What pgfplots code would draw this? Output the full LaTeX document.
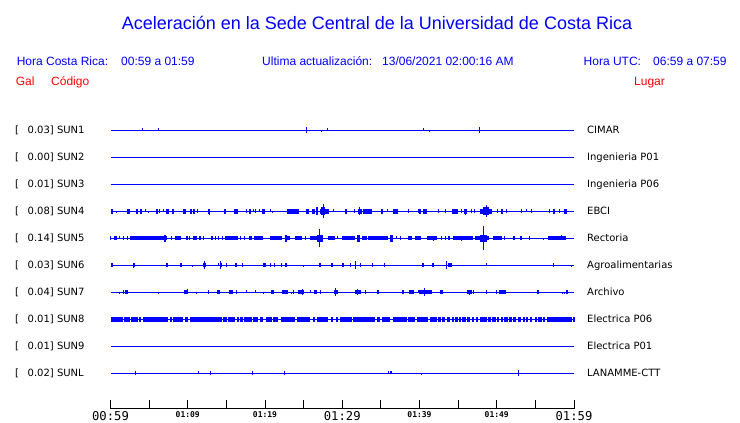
\documentclass[border=0pt]{standalone}
\usepackage{pgfplots}
\pgfplotsset{compat=1.18}
\usepackage{pgfplotstable}
\usepackage{fontspec}
\setmainfont{Liberation Sans}
\newfontfamily\dejavu{DejaVu Sans}
\newfontfamily\dejamono{DejaVu Sans Mono}
\definecolor{pblue}{RGB}{0,0,255}
\definecolor{pred}{RGB}{255,0,0}

% ---------- spikes: time (min after 00:59), up, down (px) ----------
\pgfplotstableread{
x up dn
4.12 2 0
6.19 2 0
25.35 3.5 3
27.29 0 2
28.12 2 0
40.49 2 0
41.27 0 2
47.74 3 3
}\sunAS

\pgfplotstableread{
a b
0.03 0.32
2.14 2.52
3.34 3.60
3.78 4.04
5.89 6.15
7.18 7.61
7.92 8.18
9.39 9.81
10.29 10.55
10.68 10.94
12.66 12.92
14.65 14.91
15.95 16.47
17.93 18.19
19.57 20.00
22.89 24.44
25.31 25.66
26.05 26.47
27.12 27.99
28.09 28.28
30.36 30.65
32.08 32.60
32.75 33.89
34.98 35.31
36.53 37.18
39.94 40.19
40.45 40.97
44.25 44.95
45.80 46.11
47.83 49.42
50.55 50.85
57.24 57.54
58.71 59.06
}\sunDB
\pgfplotstableread{
a b
26.62 26.76
27.25 27.80
48.26 49.00
}\sunDT
\pgfplotstableread{
x up dn
0.80 0 2
4.50 2 0
4.89 0 2
6.32 2 2
6.89 2 0
11.24 2 2
12.79 0 3.5
17.63 2 2
18.54 2 0
18.83 2 2
19.26 2 0
20.65 2 0
21.00 0 2
26.69 4 4
27.51 7 7
28.93 2 0
31.56 2 2
32.17 4 4
35.83 2 0
38.55 2 2
39.84 2 2
42.43 2 2
43.39 2 2
45.46 2 2
45.95 0 3.5
46.67 2 2
47.18 2 2
48.61 6 6
50.12 2 2
51.29 2 2
53.14 2 2
53.88 2 0
54.52 2 2
56.89 2 2
58.06 2 2
}\sunDS

\pgfplotstableread{
a b
0.45 0.80
2.52 7.28
8.35 9.13
9.77 9.99
10.72 11.16
11.50 11.72
13.01 13.23
14.39 14.60
14.82 16.54
17.97 18.28
18.58 19.80
20.65 22.16
22.59 23.24
23.88 24.75
25.83 26.69
26.77 27.55
28.19 29.06
29.93 31.65
31.87 32.30
32.52 33.17
33.37 35.96
36.18 36.61
38.55 38.99
39.42 40.19
40.93 42.23
43.30 43.43
43.73 43.95
44.38 46.97
47.18 49.00
49.55 50.72
52.14 52.36
53.01 53.31
56.60 58.93
}\sunEB
\pgfplotstableread{
a b
6.95 7.15
22.59 22.85
26.77 27.55
31.87 32.30
36.18 36.61
47.83 48.70
}\sunET
\pgfplotstableread{
x up dn
0.03 2 2
1.14 2 0
1.66 2 2
2.17 2 2
7.06 3.5 3.5
7.92 2 2
10.29 2 2
12.10 2 2
13.53 2 2
13.95 2 2
16.85 2 2
17.32 2 2
22.72 3 3
25.18 2 2
27.03 9 8.5
29.36 2 0
36.96 2 0
37.57 2 2
41.79 0 3
42.87 2 2
45.46 0 3
48.26 12 12
50.98 2 2
54.30 2 2
56.03 0 2
58.41 3 0
}\sunES

\pgfplotstableread{
a b
0.03 0.28
2.95 3.17
7.18 7.40
9.04 9.26
12.01 12.32
14.14 14.39
16.12 16.34
19.70 20.13
22.59 22.81
26.95 27.16
28.54 28.76
29.97 30.19
40.32 40.54
41.66 41.92
43.65 44.25
}\sunFB
\pgfplotstableread{
x up dn
3.04 2 3
10.59 0 1.5
12.14 4 4
13.95 2 0
14.27 4 4
15.04 2 2
17.06 2 2
20.65 2 2
21.29 2 2
22.16 2 2
24.96 0 2
31.09 2 2
31.74 4 4
32.30 2 2
33.89 2 2
35.53 2 2
43.52 4 4
48.65 2 0
57.32 2 2
59.70 0 2
}\sunFS

\pgfplotstableread{
a b
1.88 2.23
9.51 10.07
13.83 14.17
15.38 15.86
20.78 21.20
22.20 22.98
24.31 25.09
26.34 26.69
28.93 29.45
31.65 32.39
34.54 34.80
37.70 37.99
38.64 39.29
39.94 41.58
42.65 43.08
46.19 46.76
50.29 51.16
55.21 55.51
58.96 59.22
}\sunGB
\pgfplotstableread{
x up dn
1.14 0 2
1.66 2 2
6.19 0 2
9.94 3 0
11.16 0 2
12.75 2 2
16.34 2 2
17.63 2 0
18.80 2 0
19.87 0 2
23.46 0 2
23.66 2 2
24.88 3 3
25.83 2 0
27.12 2 2
29.19 4 4
32.00 3 3
33.07 2 2
34.67 2 0
39.84 2 0
40.71 4 4
42.87 2 2
46.50 0 3
46.96 2 2
48.70 2 2
49.99 2 2
58.54 0 1.5
58.74 0 1.5
}\sunGS

\pgfplotstableread{
a b
0.00 0.80
0.88 1.66
1.79 2.52
2.65 3.52
3.69 3.95
4.25 7.48
7.70 7.92
8.13 9.42
9.64 10.07
10.29 14.39
14.60 15.04
15.25 16.12
16.34 16.54
16.76 17.19
17.32 18.28
18.41 19.13
19.35 19.78
20.13 20.87
21.00 21.72
22.03 23.88
24.10 25.83
26.17 26.47
26.69 28.19
28.50 28.84
29.19 29.49
29.71 31.22
31.43 34.24
34.54 34.89
35.11 36.18
36.53 38.34
38.55 39.42
39.64 40.06
40.06 41.14
41.36 42.23
42.43 42.74
42.87 43.30
43.52 43.95
44.17 44.38
44.60 45.02
45.15 45.37
45.54 45.98
46.19 46.54
46.76 47.09
47.31 47.61
47.83 48.70
48.91 49.26
49.42 49.86
49.99 50.29
50.55 50.72
50.98 51.42
51.63 51.94
52.14 52.49
52.79 53.14
53.36 53.57
53.75 54.01
54.30 54.60
54.95 55.17
55.38 55.82
56.03 56.25
56.47 59.70
59.91 60.00
}\sunHB

\pgfplotstableread{
x up dn
3.26 2 2
11.37 2 0
12.93 2 2
18.36 2 2
22.50 2 2
36.00 2 0
36.20 2.5 0
36.40 2 0
40.28 0 2
52.80 3 3
}\sunLS

\pgfplotsset{
  spk/.style={draw=none, mark=none, forget plot,
    error bars/.cd, y dir=both, y explicit, error mark=none,
    error bar style={draw=pblue, line width=1pt, line cap=butt}},
  blob/.style={draw=none, mark=none, forget plot,
    error bars/.cd, x dir=both, x explicit, error mark=none,
    error bar style={draw=pblue, line width=#1, line cap=butt}},
}
\newcommand{\spikes}[2]{\addplot[spk] table[x=x, y expr=#1, y error plus=up, y error minus=dn] {#2};}
\newcommand{\blobs}[3]{\addplot[blob=#3] table[x expr={(\thisrow{a}+\thisrow{b})/2}, y expr=#1, x error expr={(\thisrow{b}-\thisrow{a})/2}] {#2};}
\newcommand{\base}[1]{\addplot[pblue, line width=1pt, forget plot] coordinates {(0,#1) (60,#1)};}

\begin{document}
\begin{tikzpicture}
\begin{axis}[
  at={(110.5pt,14pt)}, anchor=south west,
  x=7.725pt, y=1pt,
  xmin=0, xmax=60, ymin=14, ymax=313,
  axis x line*=bottom, axis y line=none,
  x axis line style={black, line width=1pt, -},
  clip=false,
  xtick={0,10,20,30,40,50,60},
  minor xtick={5,15,25,35,45,55},
  tick align=inside,
  major tick length=8.5pt, minor tick length=8.5pt,
  every tick/.style={black, line width=1pt},
  every minor tick/.style={black, line width=1pt},
  xticklabel style={font=\dejamono, inner sep=0pt, anchor=north, yshift=-2.6pt},
  xticklabels={{\fontsize{12.2}{13}\selectfont 00:59},
                {\bfseries\fontsize{8}{9}\selectfont 01:09},
                {\bfseries\fontsize{8}{9}\selectfont 01:19},
                {\fontsize{12.2}{13}\selectfont 01:29},
                {\bfseries\fontsize{8}{9}\selectfont 01:39},
                {\bfseries\fontsize{8}{9}\selectfont 01:49},
                {\fontsize{12.2}{13}\selectfont 01:59}},
]
% SUN1
\base{292.7}
\spikes{292.7}{\sunAS}
% SUN2, SUN3
\base{265.7}
\base{238.7}
% SUN4
\base{211.7}
\blobs{211.7}{\sunDB}{5pt}
\blobs{211.7}{\sunDT}{8pt}
\spikes{211.7}{\sunDS}
% SUN5
\base{184.7}
\blobs{184.7}{\sunEB}{4pt}
\blobs{184.7}{\sunET}{7pt}
\spikes{184.7}{\sunES}
% SUN6
\base{157.7}
\blobs{157.7}{\sunFB}{4pt}
\spikes{157.7}{\sunFS}
% SUN7
\base{130.7}
\blobs{130.7}{\sunGB}{4pt}
\spikes{130.7}{\sunGS}
% SUN8
\base{103.7}
\blobs{103.7}{\sunHB}{4.5pt}
% SUN9
\base{76.7}
% SUNL
\base{49.7}
\spikes{49.7}{\sunLS}
\end{axis}

% titles and headers
\node[anchor=base, inner sep=0pt, text=pblue, font=\fontsize{18}{20}\selectfont] at (377pt,393pt)
  {Aceleración en la Sede Central de la Universidad de Costa Rica};
\begin{scope}[every node/.style={anchor=base west, inner sep=0pt, text=pblue, font=\fontsize{12}{14}\selectfont}]
  \node at (16.6pt,357.4pt) {Hora Costa Rica:};
  \node at (121pt,357.4pt) {00:59 a 01:59};
  \node at (262pt,357.4pt) {Ultima actualización:};
  \node at (382pt,357.4pt) {13/06/2021 02:00:16 AM};
  \node at (583.5pt,357.4pt) {Hora UTC:};
  \node at (653pt,357.4pt) {06:59 a 07:59};
\end{scope}
\begin{scope}[every node/.style={anchor=base west, inner sep=0pt, text=pred, font=\fontsize{12}{14}\selectfont}]
  \node at (15.7pt,337.7pt) {Gal};
  \node at (51pt,337.7pt) {Código};
  \node at (634pt,337.7pt) {Lugar};
\end{scope}
% station labels
\foreach \yy/\vv/\cc/\ss in {292.7/0.03/SUN1/CIMAR, 265.7/0.00/SUN2/Ingenieria P01,
  238.7/0.01/SUN3/Ingenieria P06, 211.7/0.08/SUN4/EBCI, 184.7/0.14/SUN5/Rectoria,
  157.7/0.03/SUN6/Agroalimentarias, 130.7/0.04/SUN7/Archivo, 103.7/0.01/SUN8/Electrica P06,
  76.7/0.01/SUN9/Electrica P01, 49.7/0.02/SUNL/LANAMME-CTT} {
  \node[anchor=base west, inner sep=0pt, font=\dejavu\fontsize{10}{12}\selectfont] at (15pt,{\yy pt-3.6pt}) {[};
  \node[anchor=base west, inner sep=0pt, font=\dejavu\fontsize{10}{12}\selectfont] at (27.5pt,{\yy pt-3.6pt}) {\vv] \cc};
  \node[anchor=base west, inner sep=0pt, font=\dejavu\fontsize{10}{12}\selectfont] at (587pt,{\yy pt-3.6pt}) {\ss};
}
\pgfresetboundingbox
\path[use as bounding box] (0pt,0pt) rectangle (740pt,423pt);
\end{tikzpicture}
\end{document}
